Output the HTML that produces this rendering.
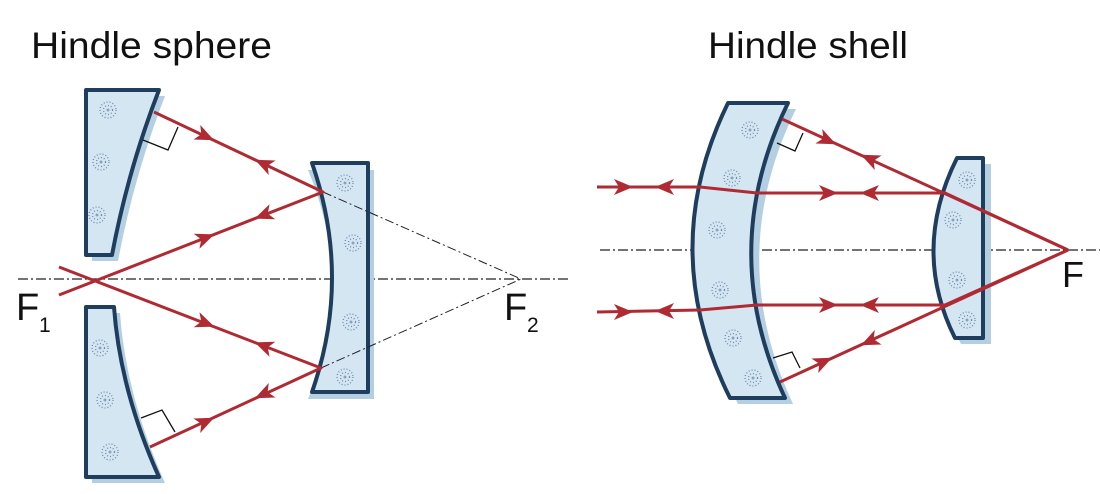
<!DOCTYPE html>
<html><head><meta charset="utf-8"><style>
html,body{margin:0;padding:0;background:#fff;}
svg{display:block;}
</style></head><body>
<svg width="1100" height="494" viewBox="0 0 1100 494" xmlns="http://www.w3.org/2000/svg" font-family="Liberation Sans, sans-serif">
<defs>
<path id="a" d="M10,0 L-9,-8 L-4,0 L-9,8 Z" fill="#b02a33"/>
<g id="d"><circle r="8" fill="none" stroke="#6a89a8" stroke-width="1.3" stroke-dasharray="1 2"/><circle r="4.5" fill="none" stroke="#6a89a8" stroke-width="1.3" stroke-dasharray="1 2"/><circle r="1.5" fill="#8aa3bb"/></g>
</defs>
<rect width="1100" height="494" fill="#fff"/>
<text x="31" y="58" font-size="37" fill="#111" textLength="241" lengthAdjust="spacingAndGlyphs">Hindle sphere</text>
<text x="708" y="58" font-size="37" fill="#111" textLength="200" lengthAdjust="spacingAndGlyphs">Hindle shell</text>

<line x1="18" y1="279" x2="570" y2="279" stroke="#222" stroke-width="1.2" stroke-dasharray="10 3 2 3"/>
<line x1="600" y1="250" x2="1100" y2="250" stroke="#222" stroke-width="1.2" stroke-dasharray="10 3 2 3"/>

<g fill="#b5cfe2">
<path d="M92,96 L165,96 Q134,176 118,261 L92,261 Z"/>
<path d="M92,313 L120,313 Q126,396 165,483 L92,483 Z"/>
<path d="M308,170 L374,170 L374,399 L308,399 Q356,285 308,170 Z"/>
<path d="M736,109 L796,109 Q724,256 793,404 L738,404 Q664,256 736,109 Z"/>
<path d="M963,164 L991,164 L991,344 L961,344 Q917,256 963,164 Z"/>
</g>
<g fill="#d5e6f3" stroke="#1f3e5e" stroke-width="4" stroke-linejoin="round">
<path d="M86,90 L159,90 Q128,170 112,255 L86,255 Z"/>
<path d="M86,307 L114,307 Q120,390 159,477 L86,477 Z"/>
<path d="M312,163 L368,163 L368,392 L312,392 Q352,278 312,163 Z"/>
<path d="M728,103 L788,103 Q716,250 785,398 L730,398 Q656,250 728,103 Z"/>
<path d="M957,158 L983,158 L983,338 L955,338 Q911,250 957,158 Z"/>
</g>
<g>
<use href="#d" x="108" y="110"/><use href="#d" x="101" y="162"/><use href="#d" x="97" y="215"/>
<use href="#d" x="100" y="348"/><use href="#d" x="105" y="400"/><use href="#d" x="110" y="452"/>
<use href="#d" x="345" y="183"/><use href="#d" x="353" y="243"/><use href="#d" x="351" y="322"/><use href="#d" x="345" y="377"/>
<use href="#d" x="750" y="130"/><use href="#d" x="732" y="178"/><use href="#d" x="717" y="230"/><use href="#d" x="720" y="290"/><use href="#d" x="733" y="338"/><use href="#d" x="753" y="378"/>
<use href="#d" x="967" y="180"/><use href="#d" x="953" y="220"/><use href="#d" x="957" y="280"/><use href="#d" x="967" y="320"/>
</g>

<g stroke="#222" stroke-width="1" fill="none" stroke-dasharray="9 3 2 3">
<line x1="323" y1="192" x2="521" y2="279"/>
<line x1="321" y1="368" x2="521" y2="279"/>
</g>

<g stroke="#111" stroke-width="1.3" fill="none">
<polyline points="143,140 168,150 178,127"/>
<polyline points="141,418 162,410 175,432"/>
<polyline points="777,143 795,151 803,133"/>
<polyline points="773,358 792,352 800,368"/>
</g>

<g stroke="#b02a33" stroke-width="3" fill="none" stroke-linejoin="round">
<polyline points="154,112 323,192 59,295"/>
<polyline points="59,267 321,368 150,447"/>
<line x1="782" y1="119" x2="1068" y2="250"/>
<line x1="780" y1="382" x2="1068" y2="250"/>
<polyline points="597,187 700,187 757,193 945,193 1068,250"/>
<polyline points="597,312 700,310 757,305 945,305 1068,250"/>
</g>
<g>
<use href="#a" transform="translate(205,136) rotate(25)"/>
<use href="#a" transform="translate(264,164) rotate(205)"/>
<use href="#a" transform="translate(205,238) rotate(-21)"/>
<use href="#a" transform="translate(264,215) rotate(159)"/>
<use href="#a" transform="translate(205,323) rotate(21)"/>
<use href="#a" transform="translate(264,346) rotate(201)"/>
<use href="#a" transform="translate(205,422) rotate(-25)"/>
<use href="#a" transform="translate(264,394) rotate(155)"/>
<use href="#a" transform="translate(623,187) rotate(0)"/>
<use href="#a" transform="translate(665,187) rotate(180)"/>
<use href="#a" transform="translate(828,193) rotate(0)"/>
<use href="#a" transform="translate(870,193) rotate(180)"/>
<use href="#a" transform="translate(623,312) rotate(0)"/>
<use href="#a" transform="translate(665,311) rotate(180)"/>
<use href="#a" transform="translate(828,305) rotate(0)"/>
<use href="#a" transform="translate(870,305) rotate(180)"/>
<use href="#a" transform="translate(827,140) rotate(25)"/>
<use href="#a" transform="translate(870,159) rotate(205)"/>
<use href="#a" transform="translate(823,362) rotate(-25)"/>
<use href="#a" transform="translate(870,341) rotate(155)"/>
</g>

<text x="16" y="320" font-size="38" fill="#111">F</text>
<text x="39" y="332" font-size="21" fill="#111">1</text>
<text x="504" y="320" font-size="38" fill="#111">F</text>
<text x="527" y="332" font-size="21" fill="#111">2</text>
<text x="1062" y="287" font-size="36" fill="#111">F</text>
</svg>
</body></html>
